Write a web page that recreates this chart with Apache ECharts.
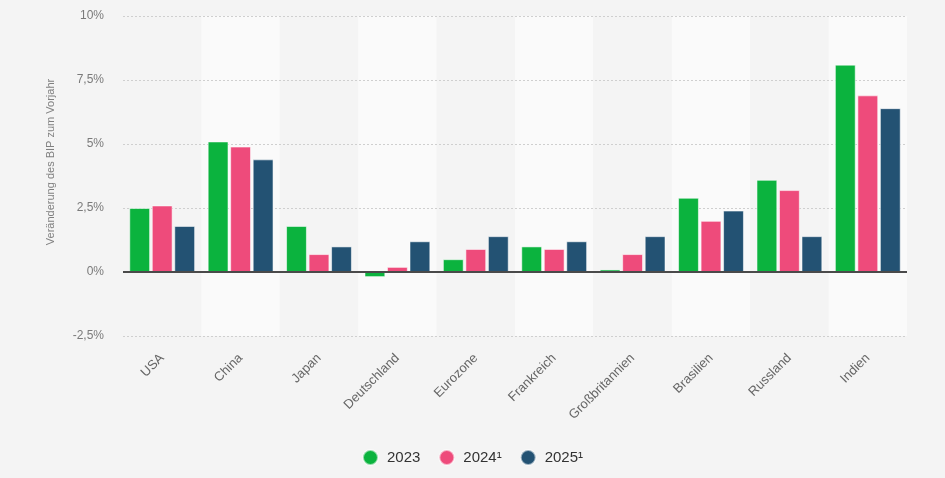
<!DOCTYPE html>
<html>
<head>
<meta charset="utf-8">
<script src="https://cdn.jsdelivr.net/npm/echarts@6/dist/echarts.min.js"></script>
<style>
html,body{margin:0;padding:0;background:#f4f4f4;}
#c{width:945px;height:478px;}
</style>
</head>
<body>
<div id="c"></div>
<script>
const categories = ['USA','China','Japan','Deutschland','Eurozone','Frankreich','Großbritannien','Brasilien','Russland','Indien'];
const seriesNames = ['2023','2024¹','2025¹'];
const values2023 = [2.5, 5.1, 1.8, -0.2, 0.5, 1.0, 0.1, 2.9, 3.6, 8.1];
const values2024 = [2.6, 4.9, 0.7, 0.2, 0.9, 0.9, 0.7, 2.0, 3.2, 6.9];
const values2025 = [1.8, 4.4, 1.0, 1.2, 1.4, 1.2, 1.4, 2.4, 1.4, 6.4];
const yTicks = [-2.5, 0, 2.5, 5, 7.5, 10];
const yAxisTitle = 'Veränderung des BIP zum Vorjahr';

const colors = ['#0bb33e', '#ee4b7b', '#235273'];
const chart = echarts.init(document.getElementById('c'), null, {renderer:'canvas'});
const font = 'Liberation Sans, Arial, sans-serif';

function mkSeries(name, data, color, withZero){
  const s = {
    name: name, type: 'bar', data: data, z: 3,
    barCategoryGap: '16%', barGap: '8%',
    itemStyle: {color: color, borderColor: 'rgba(255,255,255,0.55)', borderWidth: 1},
    emphasis: {disabled: true}
  };
  if (withZero){
    s.markLine = {
      silent: true, symbol: 'none', z: 10,
      label: {show: false},
      lineStyle: {color: '#4a4a4a', width: 2, type: 'solid'},
      data: [{yAxis: 0}]
    };
  }
  return s;
}

chart.setOption({
  backgroundColor: '#f4f4f4',
  animation: false,
  color: colors,
  textStyle: {fontFamily: font},
  grid: {left: 123, right: 38, top: 16, bottom: 142},
  legend: {
    bottom: 7, left: 'center',
    icon: 'circle', itemWidth: 15, itemHeight: 15, itemGap: 18,
    textStyle: {color: '#333', fontSize: 15, fontFamily: font, padding: [0,0,0,4]},
    data: seriesNames
  },
  graphic: [{
    type: 'text',
    x: 45, y: 162,
    rotation: Math.PI/2,
    style: {text: yAxisTitle, fill: '#808080', font: '11px ' + font, align: 'center', verticalAlign: 'top'}
  }],
  xAxis: {
    type: 'category', data: categories, z: 0,
    axisLine: {show: false}, axisTick: {show: false},
    axisLabel: {rotate: 45, color: '#666', fontSize: 13, margin: 20, interval: 0},
    splitArea: {show: true, interval: 0, areaStyle: {color: ['#f4f4f4', '#fafafa']}}
  },
  yAxis: {
    type: 'value', min: -2.5, max: 10, interval: 2.5, z: 1,
    axisLine: {show: false}, axisTick: {show: false},
    axisLabel: {color: '#7a7a7a', fontSize: 12, margin: 19,
      formatter: v => (yTicks.indexOf(v) >= 0 ? String(v).replace('.', ',') + '%' : '')},
    splitLine: {show: true, lineStyle: {color: '#cfcfcf', type: [2,2], width: 1}}
  },
  series: [
    mkSeries(seriesNames[0], values2023, colors[0], true),
    mkSeries(seriesNames[1], values2024, colors[1], false),
    mkSeries(seriesNames[2], values2025, colors[2], false)
  ]
});
</script>
</body>
</html>
